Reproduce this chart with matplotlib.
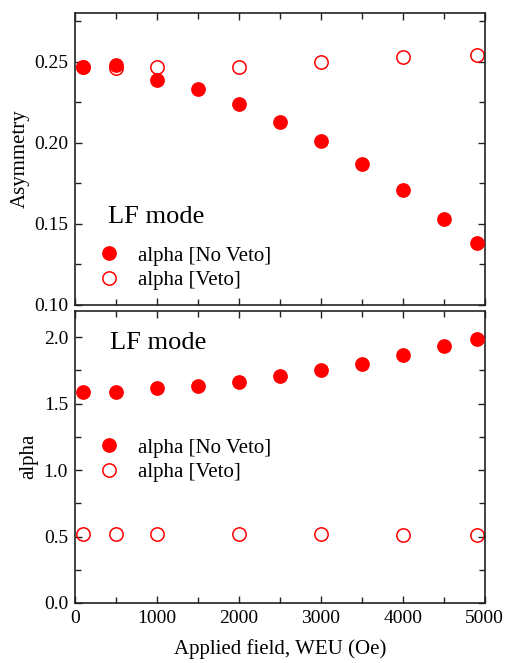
import matplotlib
matplotlib.use("Agg")
import matplotlib.pyplot as plt
from matplotlib.ticker import MultipleLocator

plt.rcParams['font.family'] = ['Liberation Serif', 'DejaVu Serif']
plt.rcParams['mathtext.fontset'] = 'stix'

field_noveto = [100, 500, 1000, 1500, 2000, 2500, 3000, 3500, 4000, 4500, 4900]
asym_noveto = [0.247, 0.248, 0.239, 0.233, 0.224, 0.213, 0.201, 0.187, 0.171, 0.153, 0.138]
alpha_noveto = [1.59, 1.585, 1.615, 1.635, 1.665, 1.705, 1.75, 1.80, 1.865, 1.93, 1.99]

field_veto = [100, 500, 1000, 2000, 3000, 4000, 4900]
asym_veto = [0.247, 0.246, 0.247, 0.247, 0.250, 0.253, 0.254]
alpha_veto = [0.52, 0.52, 0.52, 0.52, 0.518, 0.515, 0.515]

red = '#ff0000'
fig = plt.figure(figsize=(5.05, 6.63), dpi=100)
ax1 = fig.add_axes([0.1485, 0.5405, 0.8115, 0.4395])
ax2 = fig.add_axes([0.1485, 0.0905, 0.8115, 0.441])

for ax in (ax1, ax2):
    ax.set_xlim(0, 5000)
    ax.xaxis.set_major_locator(MultipleLocator(1000))
    ax.xaxis.set_minor_locator(MultipleLocator(500))
    ax.tick_params(which='both', direction='in', top=True, right=True,
                   labelsize=14, width=1.0, color='#222222', pad=5)
    ax.tick_params(which='major', length=5)
    ax.tick_params(which='minor', length=4)
    for s in ax.spines.values():
        s.set_linewidth(1.2)
        s.set_color('#222222')

leg_kw = dict(frameon=False, fontsize=15, handlelength=1.0, handletextpad=0.9,
              borderaxespad=0.0, borderpad=0.4, labelspacing=0.25)

ax1.plot(field_veto, asym_veto, 'o', ms=9.6, mfc='none', mec=red, mew=1.1, label='alpha [Veto]', zorder=2)
ax1.plot(field_noveto, asym_noveto, 'o', ms=9.6, mfc=red, mec=red, label='alpha [No Veto]', zorder=3)
ax1.set_ylim(0.10, 0.28)
ax1.yaxis.set_major_locator(MultipleLocator(0.05))
ax1.yaxis.set_minor_locator(MultipleLocator(0.025))
ax1.yaxis.set_major_formatter(plt.FuncFormatter(lambda v, p: f"{v:.2f}"))
ax1.tick_params(labelbottom=False)
ax1.set_ylabel('Asymmetry', fontsize=15, labelpad=3)
ax1.text(0.08, 0.28, 'LF mode', transform=ax1.transAxes, fontsize=19)
h, l = ax1.get_legend_handles_labels()
ax1.legend([h[1], h[0]], [l[1], l[0]], loc='lower left', bbox_to_anchor=(0.037, 0.02),
           **leg_kw)

ax2.plot(field_veto, alpha_veto, 'o', ms=9.6, mfc='none', mec=red, mew=1.1, label='alpha [Veto]', zorder=2)
ax2.plot(field_noveto, alpha_noveto, 'o', ms=9.6, mfc=red, mec=red, label='alpha [No Veto]', zorder=3)
ax2.set_ylim(0, 2.2)
ax2.yaxis.set_major_locator(MultipleLocator(0.5))
ax2.yaxis.set_minor_locator(MultipleLocator(0.25))
ax2.yaxis.set_major_formatter(plt.FuncFormatter(lambda v, p: f"{v:.1f}"))
ax2.set_ylabel('alpha', fontsize=15, labelpad=4)
ax2.set_xlabel('Applied field, WEU (Oe)', fontsize=15, labelpad=9)
ax2.text(0.085, 0.87, 'LF mode', transform=ax2.transAxes, fontsize=19)
h, l = ax2.get_legend_handles_labels()
ax2.legend([h[1], h[0]], [l[1], l[0]], loc='upper left', bbox_to_anchor=(0.037, 0.593),
           **leg_kw)

fig.savefig('out.png', dpi=100)
